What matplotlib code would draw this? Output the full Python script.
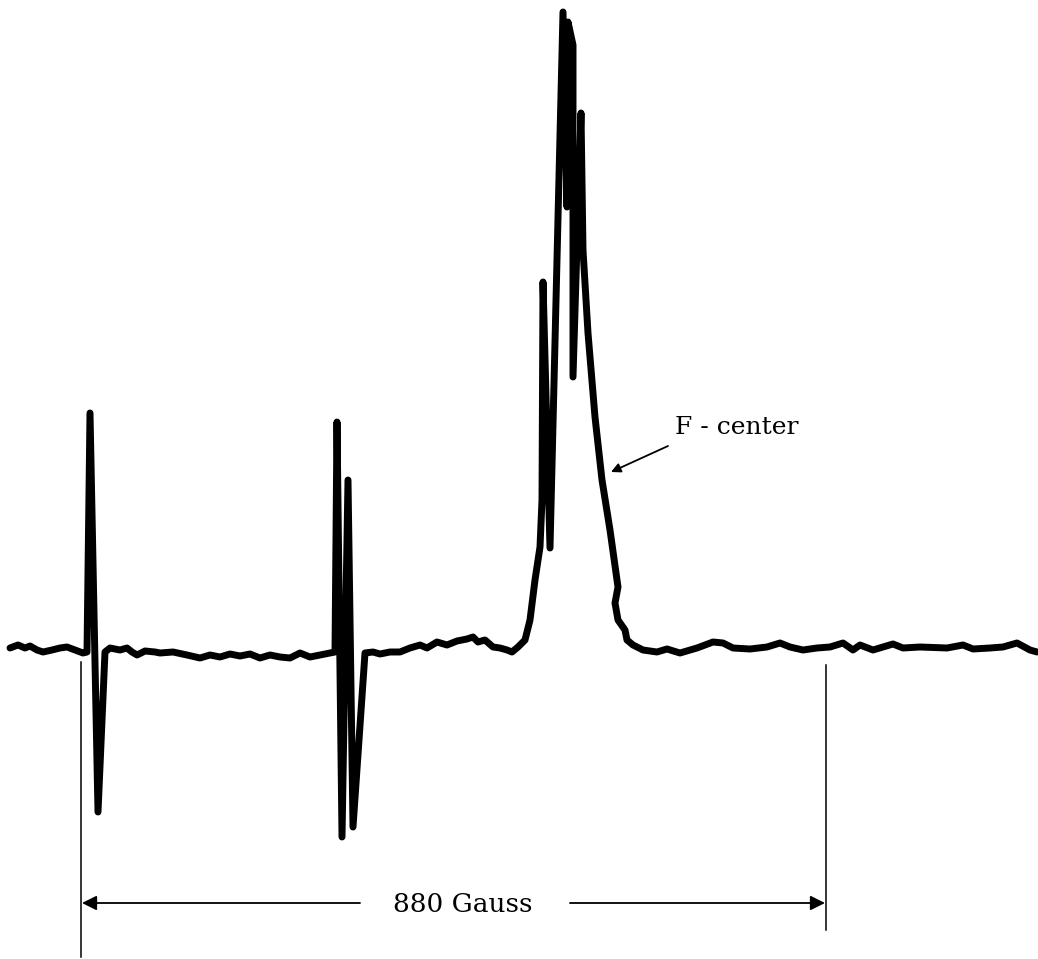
import matplotlib.pyplot as plt

# ESR trace in image pixel units (y grows downward)
trace_x = [10, 18, 25, 30, 37, 43, 52, 60, 67, 75, 83, 87,
           90, 98, 105,
           110, 120, 127, 132, 137, 145, 155,
           160, 173, 187, 200, 210, 220, 230, 240, 250, 260, 270, 280, 290,
           300, 310, 320, 330, 335,
           337, 342, 348, 353, 365,
           373, 380, 390, 400, 410, 420, 427, 437, 447, 457, 467, 473, 478,
           485, 493, 500, 507, 512, 518, 525, 530, 535, 540, 542,
           543, 550, 563, 567, 568, 573, 573, 581,
           583, 588, 595, 602, 610, 617, 618, 615, 618, 625, 627, 633,
           643, 657, 667, 680, 697, 713, 723, 733, 750, 767, 780, 790,
           803, 817, 830, 843, 853, 860, 873, 893, 903, 920, 947, 963,
           973, 990, 1003, 1017, 1030, 1037]
trace_y = [648, 645, 648, 646, 650, 652, 650, 648, 647, 650, 653, 652,
           413, 812, 652,
           648, 650, 648, 652, 655, 651, 652,
           653, 652, 655, 658, 655, 657, 654, 656, 654, 658, 655, 657, 658,
           653, 657, 655, 653, 652,
           422, 837, 480, 827, 653,
           652, 654, 652, 652, 648, 645, 648, 642, 645, 641, 639, 637, 642,
           640, 647, 648, 650, 652, 647, 640, 620, 580, 547, 500,
           282, 548, 12, 207, 22, 45, 377, 113,
           250, 333, 417, 480, 530, 580, 587, 603, 620, 630, 640, 645,
           650, 652, 649, 653, 648, 642, 643, 648, 649, 647, 643, 647,
           650, 648, 647, 643, 650, 645, 650, 644, 648, 647, 648, 645,
           649, 648, 647, 643, 650, 652]

# field markers and labels
marker_x = [81, 826]
marker_top = [662, 665]
marker_bottom = [957, 930]
span_y = 903
span_label = "880 Gauss"
peak_label = "F - center"

fig = plt.figure(figsize=(10.38, 9.59), dpi=100)
ax = fig.add_axes([0, 0, 1, 1])
ax.set_xlim(0, 1038)
ax.set_ylim(959, 0)
ax.axis("off")

ax.plot(trace_x, trace_y, color="black", lw=5,
        solid_joinstyle="round", solid_capstyle="round")

for x, y0, y1 in zip(marker_x, marker_top, marker_bottom):
    ax.plot([x, x], [y0, y1], color="black", lw=1.1)

arrow = dict(arrowstyle="-|>", color="black", lw=1.3, mutation_scale=22,
             shrinkA=0, shrinkB=0)
ax.annotate("", xy=(marker_x[0] + 1, span_y), xytext=(360, span_y),
            arrowprops=arrow)
ax.annotate("", xy=(marker_x[1] - 1, span_y), xytext=(570, span_y),
            arrowprops=arrow)
ax.text(463, span_y + 1, span_label, ha="center", va="center",
        fontsize=19, family="DejaVu Serif")

ax.annotate("", xy=(611, 472), xytext=(668, 446),
            arrowprops=dict(arrowstyle="-|>", color="black", lw=1.3,
                            mutation_scale=14, shrinkA=0, shrinkB=0))
ax.text(675, 428, peak_label, ha="left", va="center",
        fontsize=18, family="DejaVu Serif")

fig.savefig("out.png", dpi=100)
